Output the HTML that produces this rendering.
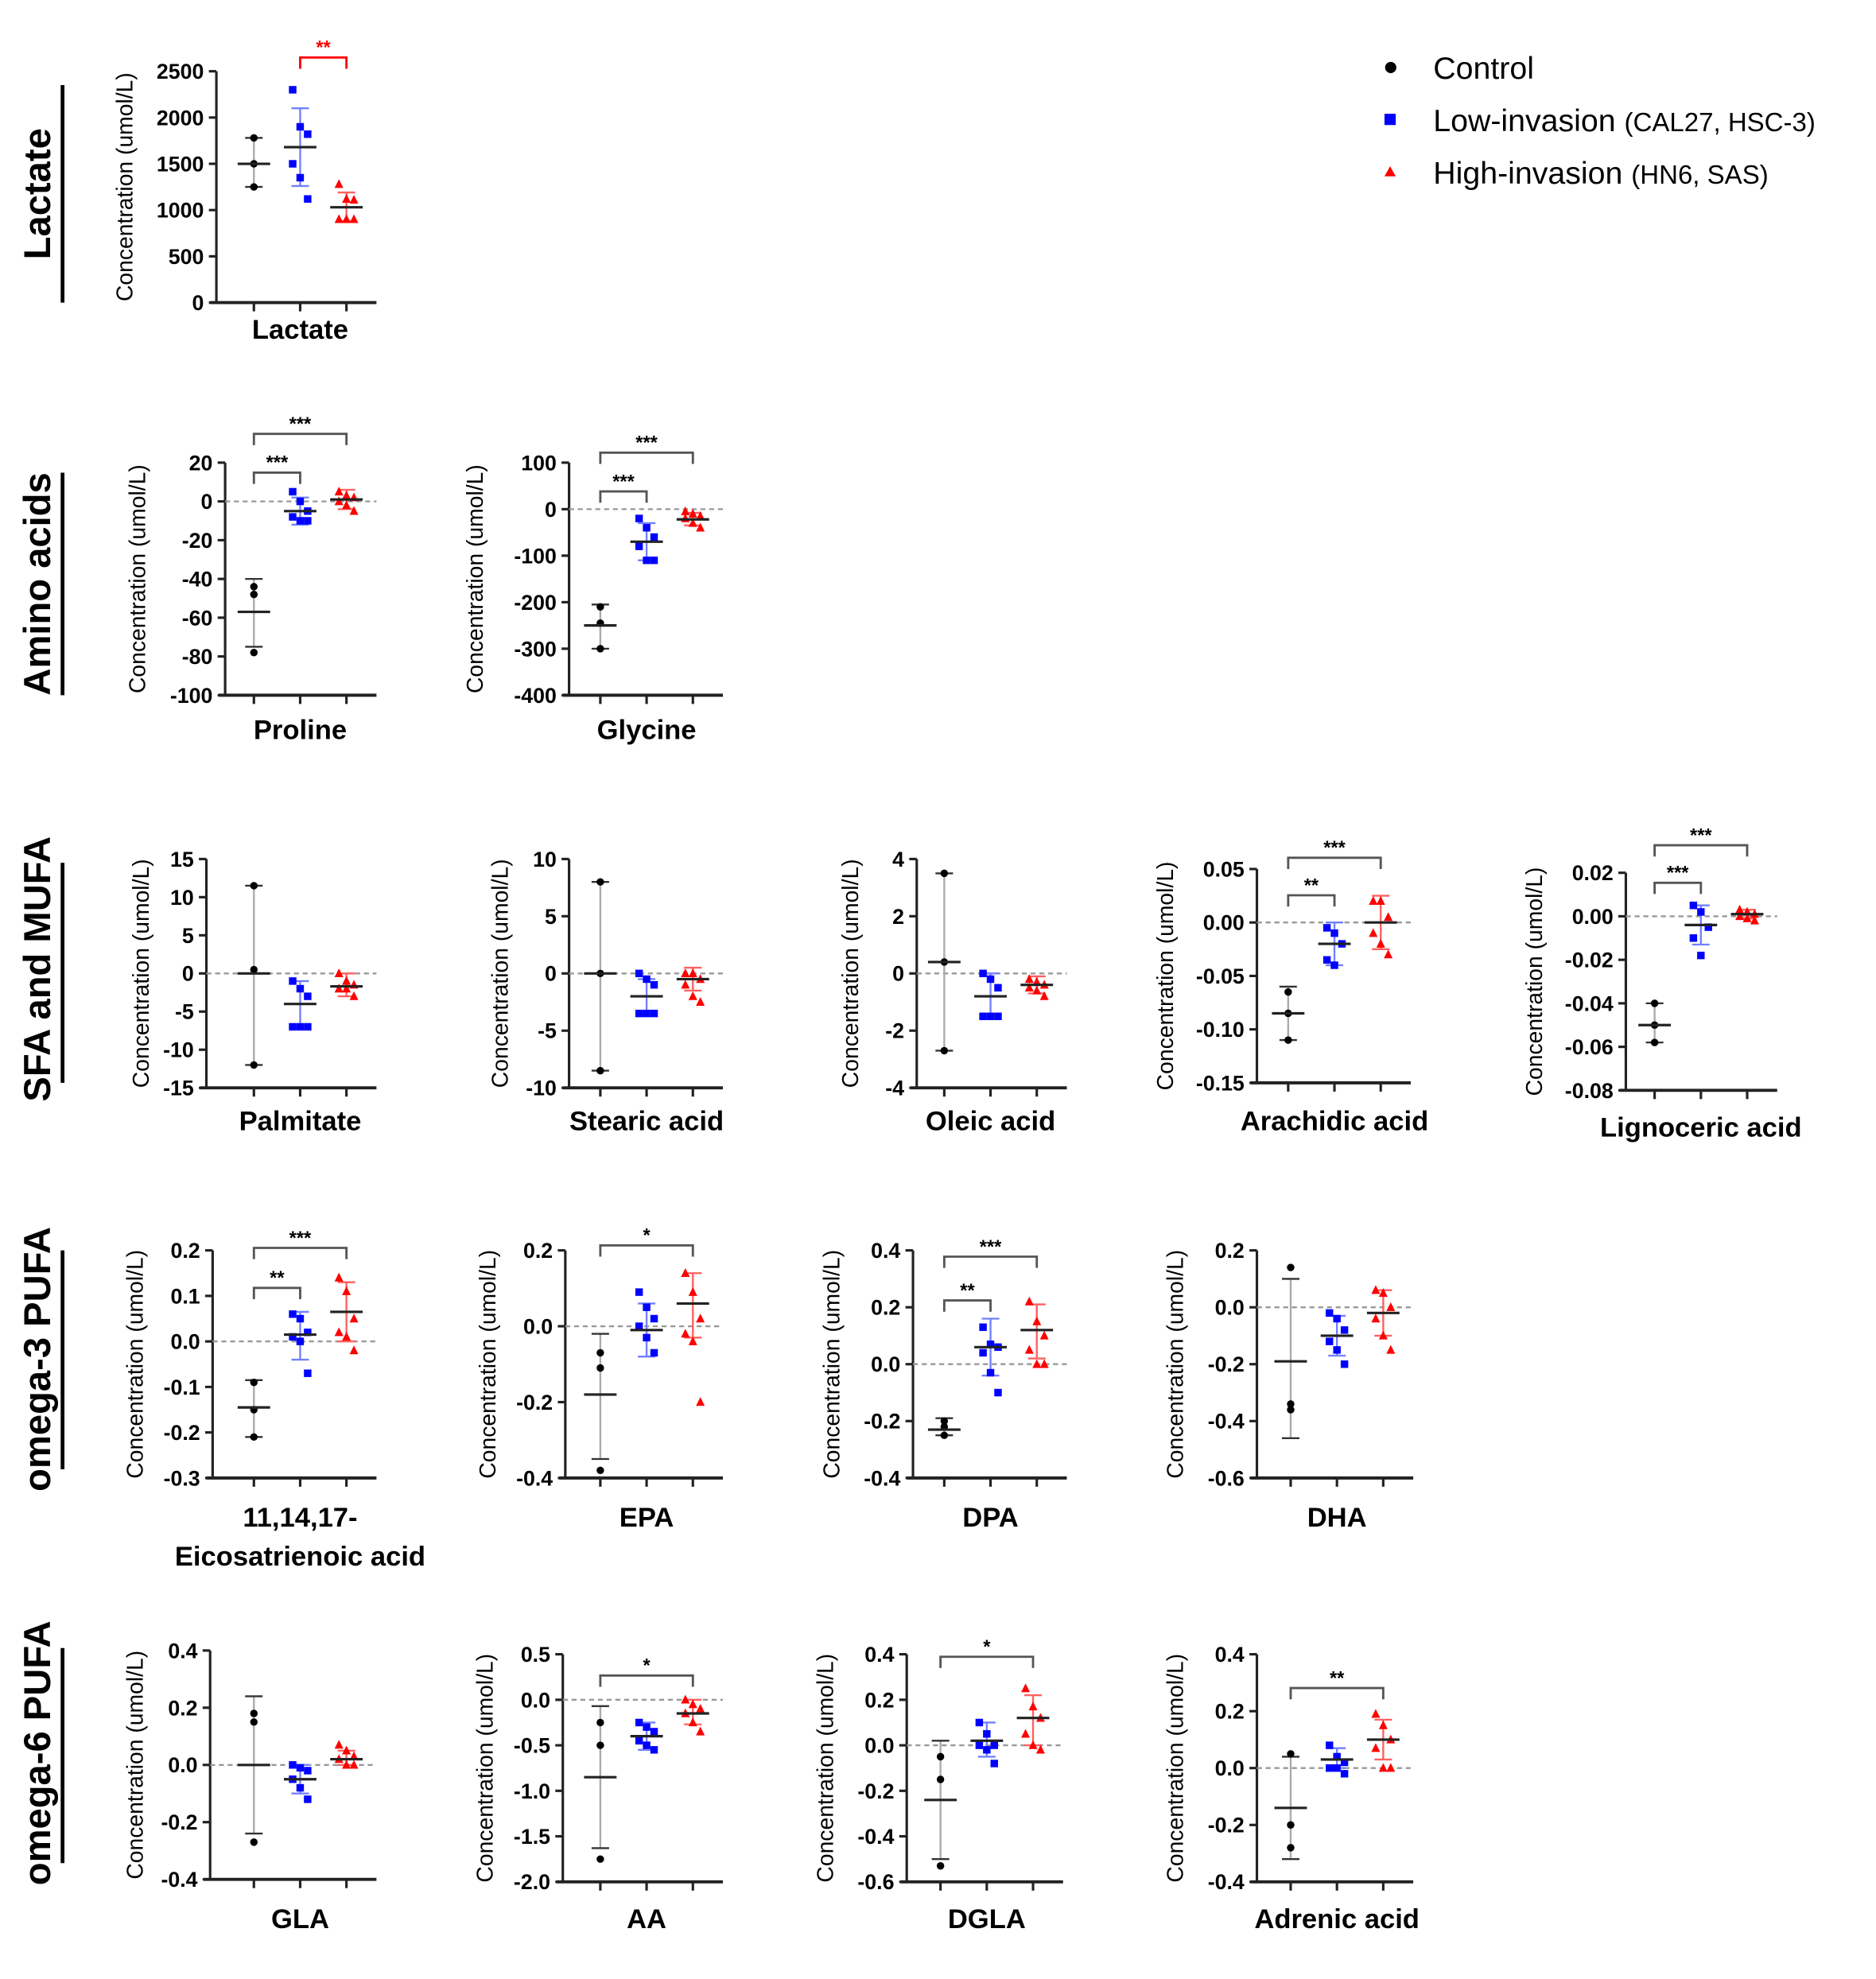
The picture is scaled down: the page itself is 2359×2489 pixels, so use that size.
<!DOCTYPE html>
<html><head><meta charset="utf-8"><style>
html,body{margin:0;padding:0;background:#fff;}
svg{display:block;}
text{font-family:"Liberation Sans",Arial,sans-serif;}
</style></head><body>
<svg id="s" xmlns="http://www.w3.org/2000/svg" width="2359" height="2489" viewBox="0 0 1500 1582.7">
<rect width="1500" height="1583" fill="#fff"/>
<g font-weight="bold" font-size="30" fill="#000">
<text transform="translate(40,155) rotate(-90)" text-anchor="middle">Lactate</text>
<text transform="translate(40,467) rotate(-90)" text-anchor="middle">Amino acids</text>
<text transform="translate(40,775) rotate(-90)" text-anchor="middle">SFA and MUFA</text>
<text transform="translate(40,1087) rotate(-90)" text-anchor="middle">omega-3 PUFA</text>
<text transform="translate(40,1402) rotate(-90)" text-anchor="middle">omega-6 PUFA</text>
</g>
<g stroke="#000" stroke-width="3">
<line x1="50" y1="68" x2="50" y2="242"/>
<line x1="50" y1="378" x2="50" y2="556"/>
<line x1="50" y1="690" x2="50" y2="866"/>
<line x1="50" y1="1000" x2="50" y2="1175"/>
<line x1="50" y1="1318" x2="50" y2="1490"/>
</g>
<circle cx="1112" cy="54" r="4.5" fill="#000"/>
<rect x="1107" y="91" width="9" height="9" fill="#0000ff"/>
<polygon points="1111.5,133 1116,141 1107,141" fill="#ff0000"/>
<text x="1146" y="63" font-size="25">Control</text>
<text x="1146" y="105" font-size="25">Low-invasion <tspan font-size="21">(CAL27, HSC-3)</tspan></text>
<text x="1146" y="147" font-size="25">High-invasion <tspan font-size="21">(HN6, SAS)</tspan></text>
<g id="g"></g>
</svg>
<script>
var P=[
{ax:173,yt:57,yb:242,vt:2500,vb:0,ticks:["2500","2000","1500","1000","500","0"],gx:[203,240,277],lab:["Lactate"],ly:271,yl:100,zero:false,
 d:[[1780,1500,1250],[2300,1900,1820,1500,1350,1120],[1280,1120,1110,900,900,900]],
 st:[[1500,1250,1780],[1680,1260,2100],[1030,880,1190]],br:[[1,2,46,"**","#ff0000"]]},
{ax:180,yt:370,yb:556,vt:20,vb:-100,ticks:["20","0","-20","-40","-60","-80","-100"],gx:[203,240,277],lab:["Proline"],ly:591,yl:110,zero:true,
 d:[[-44,-48,-78],[5,0,-5,-8,-10,-10],[5,3,2,0,-2,-5]],st:[[-57,-75,-40],[-5,-12,2],[1,-4,6]],br:[[0,1,378,"***"],[0,2,347,"***"]]},
{ax:455,yt:370,yb:556,vt:100,vb:-400,ticks:["100","0","-100","-200","-300","-400"],gx:[480,517,554],lab:["Glycine"],ly:591,yl:380,zero:true,
 d:[[-210,-245,-300],[-20,-40,-60,-80,-110,-110],[-5,-10,-15,-20,-30,-40]],st:[[-250,-300,-205],[-70,-110,-30],[-22,-35,-8]],br:[[0,1,393,"***"],[0,2,362,"***"]]},
{ax:165,yt:687,yb:870,vt:15,vb:-15,ticks:["15","10","5","0","-5","-10","-15"],gx:[203,240,277],lab:["Palmitate"],ly:904,yl:113,zero:true,
 d:[[11.5,0.5,-12],[-1,-2,-3,-7,-7,-7],[0,-1,-1.5,-2,-2,-3]],st:[[0,-12,11.5],[-4,-7,-1],[-1.7,-3,0]],br:[]},
{ax:455,yt:687,yb:870,vt:10,vb:-10,ticks:["10","5","0","-5","-10"],gx:[480,517,554],lab:["Stearic acid"],ly:904,yl:400,zero:true,
 d:[[8,0,-8.5],[0,-0.5,-1,-3.5,-3.5,-3.5],[0,0,-0.5,-1,-2,-2.5]],st:[[0,-8.5,8],[-2,-3.5,-0.5],[-0.5,-1.5,0.5]],br:[]},
{ax:733,yt:687,yb:870,vt:4,vb:-4,ticks:["4","2","0","-2","-4"],gx:[755,792,829],lab:["Oleic acid"],ly:904,yl:680,zero:true,
 d:[[3.5,0.4,-2.7],[0,-0.2,-0.5,-1.5,-1.5,-1.5],[-0.2,-0.3,-0.4,-0.5,-0.6,-0.8]],st:[[0.4,-2.7,3.5],[-0.8,-1.5,0],[-0.4,-0.7,-0.1]],br:[]},
{ax:1005,yt:695,yb:866,vt:0.05,vb:-0.15,ticks:["0.05","0.00","-0.05","-0.10","-0.15"],gx:[1030,1067,1104],lab:["Arachidic acid"],ly:904,yl:932,zero:true,
 d:[[-0.065,-0.085,-0.11],[-0.005,-0.01,-0.02,-0.035,-0.04],[0.02,0.02,0.005,-0.01,-0.02,-0.03]],st:[[-0.085,-0.11,-0.06],[-0.02,-0.04,0],[0,-0.025,0.025]],br:[[0,1,716,"**"],[0,2,686,"***"]]},
{ax:1300,yt:698,yb:872,vt:0.02,vb:-0.08,ticks:["0.02","0.00","-0.02","-0.04","-0.06","-0.08"],gx:[1323,1360,1397],lab:["Lignoceric acid"],ly:909,yl:1227,zero:true,
 d:[[-0.04,-0.05,-0.058],[0.005,0.002,-0.005,-0.01,-0.018],[0.003,0.002,0.001,0,-0.001,-0.002]],st:[[-0.05,-0.058,-0.04],[-0.004,-0.013,0.005],[0.001,-0.001,0.003]],br:[[0,1,706,"***"],[0,2,676,"***"]]},
{ax:170,yt:1000,yb:1182,vt:0.2,vb:-0.3,ticks:["0.2","0.1","0.0","-0.1","-0.2","-0.3"],gx:[203,240,277],lab:["11,14,17-","Eicosatrienoic acid"],ly:1221,yl:108,zero:true,
 d:[[-0.09,-0.15,-0.21],[0.06,0.05,0.02,0.01,0.0,-0.07],[0.14,0.11,0.05,0.02,0.01,-0.02]],st:[[-0.145,-0.21,-0.085],[0.015,-0.04,0.065],[0.065,0,0.13]],br:[[0,1,1030,"**"],[0,2,998,"***"]]},
{ax:452,yt:1000,yb:1182,vt:0.2,vb:-0.4,ticks:["0.2","0.0","-0.2","-0.4"],gx:[480,517,554],lab:["EPA"],ly:1221,yl:390,zero:true,
 d:[[-0.07,-0.11,-0.38],[0.09,0.05,0.02,0,-0.03,-0.07],[0.14,0.09,0.02,-0.02,-0.04,-0.2]],st:[[-0.18,-0.35,-0.02],[-0.01,-0.08,0.06],[0.06,-0.03,0.14]],br:[[0,2,996,"*"]]},
{ax:730,yt:1000,yb:1182,vt:0.4,vb:-0.4,ticks:["0.4","0.2","0.0","-0.2","-0.4"],gx:[755,792,829],lab:["DPA"],ly:1221,yl:665,zero:true,
 d:[[-0.2,-0.22,-0.25],[0.13,0.07,0.06,0.04,-0.03,-0.1],[0.22,0.15,0.1,0.05,0.0,0.0]],st:[[-0.23,-0.25,-0.19],[0.06,-0.04,0.16],[0.12,0.02,0.21]],br:[[0,1,1040,"**"],[0,2,1005,"***"]]},
{ax:1005,yt:1000,yb:1182,vt:0.2,vb:-0.6,ticks:["0.2","0.0","-0.2","-0.4","-0.6"],gx:[1032,1069,1106],lab:["DHA"],ly:1221,yl:940,zero:true,
 d:[[0.14,-0.34,-0.36],[-0.02,-0.04,-0.08,-0.12,-0.15,-0.2],[0.06,0.05,0.0,-0.04,-0.1,-0.15]],st:[[-0.19,-0.46,0.1],[-0.1,-0.17,-0.03],[-0.02,-0.1,0.06]],br:[]},
{ax:168,yt:1320,yb:1503,vt:0.4,vb:-0.4,ticks:["0.4","0.2","0.0","-0.2","-0.4"],gx:[203,240,277],lab:["GLA"],ly:1542,yl:108,zero:true,
 d:[[0.18,0.15,-0.27],[0.0,-0.01,-0.02,-0.05,-0.08,-0.12],[0.07,0.05,0.03,0.02,0.0,0.0]],st:[[0,-0.24,0.24],[-0.05,-0.1,0.0],[0.02,0.0,0.05]],br:[]},
{ax:450,yt:1323,yb:1505,vt:0.5,vb:-2.0,ticks:["0.5","0.0","-0.5","-1.0","-1.5","-2.0"],gx:[480,517,554],lab:["AA"],ly:1542,yl:388,zero:true,
 d:[[-0.25,-0.5,-1.75],[-0.25,-0.3,-0.35,-0.45,-0.5,-0.55],[0,-0.05,-0.1,-0.15,-0.25,-0.35]],st:[[-0.85,-1.63,-0.07],[-0.4,-0.55,-0.25],[-0.15,-0.27,0]],br:[[0,2,1340,"*"]]},
{ax:725,yt:1323,yb:1505,vt:0.4,vb:-0.6,ticks:["0.4","0.2","0.0","-0.2","-0.4","-0.6"],gx:[752,789,826],lab:["DGLA"],ly:1542,yl:660,zero:true,
 d:[[-0.05,-0.15,-0.53],[0.1,0.05,0.0,0.0,-0.02,-0.08],[0.25,0.17,0.12,0.05,0.0,-0.02]],st:[[-0.24,-0.5,0.02],[0.02,-0.05,0.1],[0.12,0.0,0.22]],br:[[0,2,1325,"*"]]},
{ax:1005,yt:1323,yb:1505,vt:0.4,vb:-0.4,ticks:["0.4","0.2","0.0","-0.2","-0.4"],gx:[1032,1069,1106],lab:["Adrenic acid"],ly:1542,yl:940,zero:true,
 d:[[0.05,-0.2,-0.28],[0.08,0.04,0.02,0.0,0.0,-0.02],[0.19,0.15,0.1,0.07,0.0,0.0]],st:[[-0.14,-0.32,0.04],[0.03,0.0,0.07],[0.1,0.03,0.17]],br:[[0,2,1350,"**"]]}
];
var h="";
P.forEach(function(p){
 function Y(v){return p.yt+(p.vt-v)*(p.yb-p.yt)/(p.vt-p.vb);}
 var x2=p.gx[2]+24;
 h+='<line x1="'+p.ax+'" y1="'+p.yt+'" x2="'+p.ax+'" y2="'+p.yb+'" stroke="#222" stroke-width="2"/>';
 h+='<line x1="'+(p.ax-5)+'" y1="'+p.yb+'" x2="'+x2+'" y2="'+p.yb+'" stroke="#222" stroke-width="2.5"/>';
 var n=p.ticks.length;
 p.ticks.forEach(function(t,i){var y=p.yt+i*(p.yb-p.yt)/(n-1);
  h+='<line x1="'+(p.ax-6)+'" y1="'+y+'" x2="'+p.ax+'" y2="'+y+'" stroke="#222" stroke-width="2"/>';
  h+='<text x="'+(p.ax-10)+'" y="'+(y+6)+'" font-size="17" font-weight="bold" text-anchor="end">'+t+'</text>';});
 p.gx.forEach(function(x){h+='<line x1="'+x+'" y1="'+p.yb+'" x2="'+x+'" y2="'+(p.yb+7)+'" stroke="#222" stroke-width="2"/>';});
 if(p.zero){var z=Y(0);h+='<line x1="'+p.ax+'" y1="'+z+'" x2="'+x2+'" y2="'+z+'" stroke="#999" stroke-width="1.5" stroke-dasharray="4,3"/>';}
 var cx=(p.gx[0]+p.gx[2])/2;
 p.lab.forEach(function(l,i){h+='<text x="'+cx+'" y="'+(p.ly+i*31)+'" font-size="22" font-weight="bold" text-anchor="middle">'+l+'</text>';});
 var yc=(p.yt+p.yb)/2;
 h+='<text transform="translate('+(p.yl+6)+','+yc+') rotate(-90)" font-size="18" text-anchor="middle">Concentration (umol/L)</text>';
 var ecol=["#aaa","#7080ff","#ff6060"];
 p.st.forEach(function(s,g){var x=p.gx[g];
  h+='<line x1="'+x+'" y1="'+Y(s[1])+'" x2="'+x+'" y2="'+Y(s[2])+'" stroke="'+ecol[g]+'" stroke-width="1.5"/>';
  [s[1],s[2]].forEach(function(v){h+='<line x1="'+(x-7)+'" y1="'+Y(v)+'" x2="'+(x+7)+'" y2="'+Y(v)+'" stroke="'+(g?ecol[g]:"#333")+'" stroke-width="1.5"/>';});
 });
 p.d.forEach(function(arr,g){var x=p.gx[g];
  arr.forEach(function(v,i){var y=Y(v),off=(arr.length>3)?((i%3)-1)*6:0;
   if(g==0)h+='<circle cx="'+x+'" cy="'+y+'" r="3" fill="#000"/>';
   else if(g==1)h+='<rect x="'+(x+off-3)+'" y="'+(y-3)+'" width="6" height="6" fill="#0000ff"/>';
   else h+='<polygon points="'+(x+off)+','+(y-4)+' '+(x+off+3.5)+','+(y+3)+' '+(x+off-3.5)+','+(y+3)+'" fill="#ff0000"/>';});
 });
 p.st.forEach(function(s,g){var x=p.gx[g];h+='<line x1="'+(x-13)+'" y1="'+Y(s[0])+'" x2="'+(x+13)+'" y2="'+Y(s[0])+'" stroke="#222" stroke-width="2"/>';});
 p.br.forEach(function(b){var c=b[4]||"#555",xa=p.gx[b[0]],xb=p.gx[b[1]],y=b[2];
  h+='<polyline points="'+xa+','+(y+9)+' '+xa+','+y+' '+xb+','+y+' '+xb+','+(y+9)+'" fill="none" stroke="'+c+'" stroke-width="1.8"/>';
  h+='<text x="'+((xa+xb)/2)+'" y="'+(y-3)+'" font-size="15" font-weight="bold" text-anchor="middle" fill="'+(b[4]||"#000")+'">'+b[3]+'</text>';});
});
document.getElementById("g").innerHTML=h;
</script>
</body></html>
